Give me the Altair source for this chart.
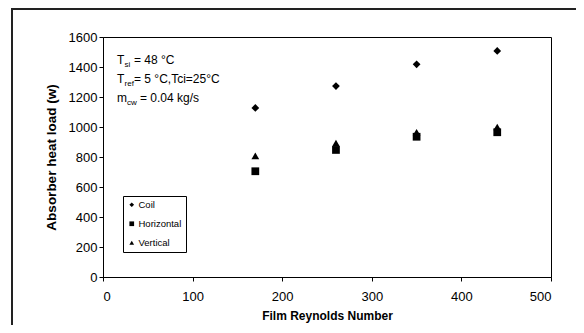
import altair as alt
import pandas as pd

# ---- data ----
re_num = [170, 260, 350, 440]
coil = [1127, 1273, 1418, 1507]
horizontal = [705, 847, 935, 965]
vertical = [807, 893, 965, 1000]
series = ["Coil", "Horizontal", "Vertical"]
shapes = ["diamond", "square", "triangle-up"]
x_ticks = [0, 100, 200, 300, 400, 500]
y_ticks = [0, 200, 400, 600, 800, 1000, 1200, 1400, 1600]

rows = []
for name, vals in zip(series, [coil, horizontal, vertical]):
    for xv, yv in zip(re_num, vals):
        rows.append({"Re": xv, "Q": yv, "Config": name})
df = pd.DataFrame(rows)

FONT = "Liberation Sans"
W, H = 448, 240

# annotation pieces (text, pixel x, pixel baseline y, font size)
ann_text = ["T", "si", "= 48 °C",
            "T", "ref", "= 5 °C,Tci=25°C",
            "m", "cw", "= 0.04 kg/s"]
ann_x = [14, 21.6, 31,
         14, 21.6, 31,
         14, 24, 37]
ann_y = [27, 30, 27,
         46, 49, 46,
         65, 68, 65]
ann_size = [12, 8, 12, 12, 8, 12, 12, 8, 12]
ann = pd.DataFrame({"t": ann_text, "px": ann_x, "py": ann_y, "fs": ann_size})

points = alt.Chart(df).mark_point(filled=True, color="black", opacity=1, size=60).encode(
    x=alt.X("Re:Q", scale=alt.Scale(domain=[0, 500], nice=False),
            axis=alt.Axis(values=x_ticks, title="Film Reynolds Number", grid=False,
                          labelFontSize=13, titleFontSize=12, titleFontWeight="bold",
                          tickSize=4, labelPadding=9, titlePadding=7, format="d",
                          domainColor="black", tickColor="black",
                          labelColor="black", titleColor="black",
                          labelFont=FONT, titleFont=FONT)),
    y=alt.Y("Q:Q", scale=alt.Scale(domain=[0, 1600], nice=False),
            axis=alt.Axis(values=y_ticks, title="Absorber heat load (w)", grid=False,
                          labelFontSize=13, titleFontSize=13.5, titleFontWeight="bold",
                          tickSize=4, labelPadding=2, titlePadding=10, format="d",
                          domainColor="black", tickColor="black",
                          labelColor="black", titleColor="black",
                          labelFont=FONT, titleFont=FONT)),
    shape=alt.Shape("Config:N", scale=alt.Scale(domain=series, range=shapes),
                    legend=alt.Legend(title=None, orient="none", legendX=20, legendY=159,
                                      strokeColor="black", padding=4, fillColor="white",
                                      symbolSize=22, symbolFillColor="black",
                                      symbolStrokeColor="black", labelFontSize=9.5,
                                      labelFont=FONT, labelColor="black",
                                      rowPadding=7, labelOffset=2)),
)

notes = alt.Chart(ann).mark_text(align="left", baseline="alphabetic", font=FONT,
                                 color="black").encode(
    x=alt.X("px:Q", scale=None),
    y=alt.Y("py:Q", scale=None),
    text="t:N",
    size=alt.Size("fs:Q", scale=None, legend=None),
)

frame = alt.Chart(pd.DataFrame({"k": [0]})).mark_rect(
    fill=None, stroke="#222222", strokeWidth=2, clip=False).encode(
    x=alt.value(-91), x2=alt.value(700), y=alt.value(-28), y2=alt.value(400))

chart = alt.layer(frame, points, notes).properties(
    width=W, height=H,
    autosize=alt.AutoSizeParams(type="none"),
    padding={"left": 95, "top": 29, "right": 25, "bottom": 48},
    background="white",
).configure_view(stroke="black", strokeWidth=1)

chart.save("out.html", embed_options={"renderer": "svg", "actions": False})
